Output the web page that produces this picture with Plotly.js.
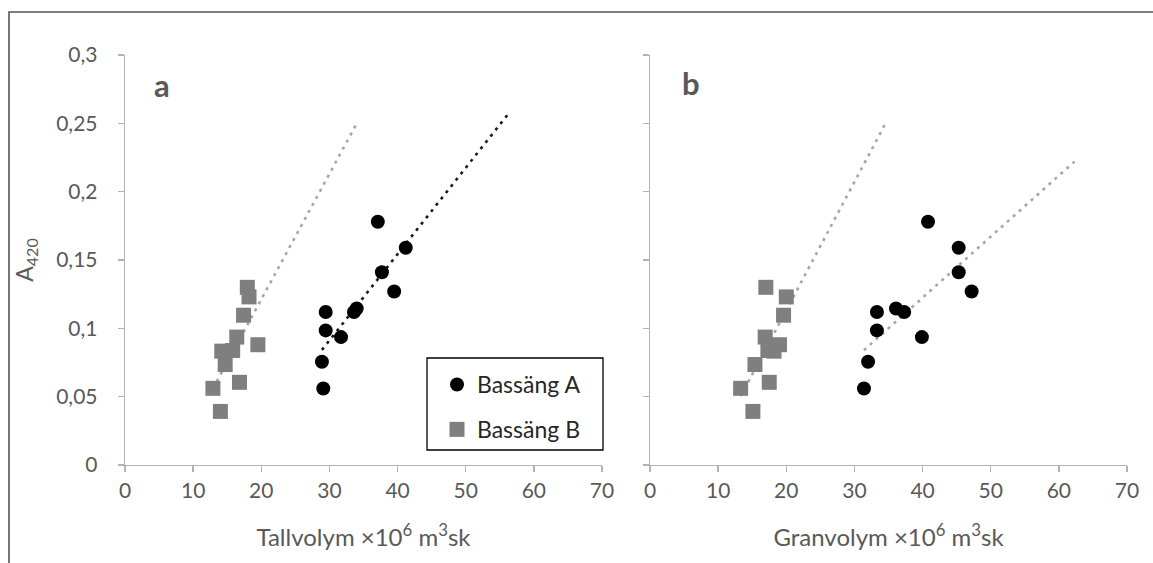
<!DOCTYPE html>
<html>
<head>
<meta charset="utf-8">
<script src="https://cdn.plot.ly/plotly-3.0.1.min.js"></script>
<style>html,body{margin:0;padding:0;background:#fff;}#chart{width:1153px;height:563px;}</style>
</head>
<body>
<div id="chart"></div>
<script>
// ---- Data ----
// A420 values (shared by both panels)
const aA420 = [0.178, 0.159, 0.141, 0.127, 0.1145, 0.112, 0.112, 0.0985, 0.0936, 0.0755, 0.056];
const aTall = [37.1, 41.2, 37.7, 39.5, 34.0, 33.6, 29.45, 29.45, 31.7, 28.9, 29.1];
const aGran = [40.8, 45.3, 45.3, 47.2, 36.1, 37.3, 33.3, 33.3, 39.9, 32.0, 31.4];

const bA420 = [0.130, 0.123, 0.1096, 0.0936, 0.088, 0.0833, 0.0838, 0.0735, 0.0605, 0.0561, 0.0392];
const bTall = [17.95, 18.2, 17.4, 16.4, 19.5, 14.2, 15.8, 14.7, 16.8, 12.9, 14.0];
const bGran = [17.0, 20.0, 19.6, 16.9, 19.0, 18.2, 17.3, 15.4, 17.5, 13.3, 15.1];

// Trend lines (end points)
const trendTallAx = [28.9, 56.5];   const trendTallAy = [0.0842, 0.2585];
const trendTallBx = [12.9, 34.1];   const trendTallBy = [0.0560, 0.2507];
const trendGranAx = [31.4, 62.3];   const trendGranAy = [0.0840, 0.2220];
const trendGranBx = [13.3, 34.44];  const trendGranBy = [0.0503, 0.2488];

const xTickVals = [0, 10, 20, 30, 40, 50, 60, 70];
const xTickText = ['0', '10', '20', '30', '40', '50', '60', '70'];
const yTickVals = [0, 0.05, 0.1, 0.15, 0.2, 0.25, 0.3];
const yTickText = ['0', '0,05', '0,1', '0,15', '0,2', '0,25', '0,3'];

const seriesNames = ['Bassäng A', 'Bassäng B'];
const panelLabels = ['a', 'b'];
const xTitles = ['Tallvolym ×10<sup>6</sup> m<sup>3</sup>sk', 'Granvolym ×10<sup>6</sup> m<sup>3</sup>sk'];
const yTitle = 'A<sub>420</sub>';

// ---- Styles ----
const FONT = 'Lato, "Open Sans", sans-serif';
const TXT = '#595959';
const AXC = '#b3b3b3';
const colA = '#000000';
const colB = '#7f7f7f';
const dotDash = '3px,5px';

function markers(x, y, xa, ya, name, sym, col, size, show) {
  return {x: x, y: y, xaxis: xa, yaxis: ya, type: 'scatter', mode: 'markers', name: name,
    legendgroup: name, showlegend: show,
    marker: {symbol: sym, color: col, size: size}, hoverinfo: 'x+y'};
}
function trend(x, y, xa, ya, col) {
  return {x: x, y: y, xaxis: xa, yaxis: ya, type: 'scatter', mode: 'lines', showlegend: false,
    hoverinfo: 'skip', line: {color: col, width: 2.6, dash: dotDash}};
}

const data = [
  trend(trendTallBx, trendTallBy, 'x', 'y', '#a6a6a6'),
  trend(trendTallAx, trendTallAy, 'x', 'y', '#1a1a1a'),
  trend(trendGranBx, trendGranBy, 'x2', 'y2', '#a6a6a6'),
  trend(trendGranAx, trendGranAy, 'x2', 'y2', '#a6a6a6'),
  markers(aTall, aA420, 'x', 'y', seriesNames[0], 'circle', colA, 14, true),
  markers(bTall, bA420, 'x', 'y', seriesNames[1], 'square', colB, 15, true),
  markers(aGran, aA420, 'x2', 'y2', seriesNames[0], 'circle', colA, 14, false),
  markers(bGran, bA420, 'x2', 'y2', seriesNames[1], 'square', colB, 15, false)
];

const L = 125, R = 26, T = 55, B = 98;
const W = 1153, H = 563;
const plotW = W - L - R, plotH = H - T - B;
const d1 = 477 / plotW, d2 = 525 / plotW;
const px = v => (v - L) / plotW;          // pixel x -> paper x
const py = v => (H - B - v) / plotH;      // pixel y -> paper y

function xax(domain, anchor, title) {
  return {domain: domain, anchor: anchor, range: [0, 70], tickmode: 'array', tickvals: xTickVals, ticktext: xTickText,
    ticks: 'outside', ticklen: 6, tickcolor: AXC, tickwidth: 1.3, showline: true, linecolor: AXC, linewidth: 1.3,
    showgrid: false, zeroline: false, tickfont: {family: FONT, size: 21, color: TXT},
    title: {text: title, font: {family: FONT, size: 24, color: TXT}, standoff: 28}, fixedrange: true};
}
function yax(anchor, labels, title) {
  return {anchor: anchor, domain: [0, 1], range: [0, 0.3], tickmode: 'array', tickvals: yTickVals, ticktext: yTickText,
    showticklabels: labels, ticks: 'outside', ticklen: 6, tickcolor: AXC, tickwidth: 1.3, ticklabelstandoff: 16,
    showline: true, linecolor: AXC, linewidth: 1.3, showgrid: false, zeroline: false,
    tickfont: {family: FONT, size: 21, color: TXT},
    title: title ? {text: title, font: {family: FONT, size: 23, color: TXT}, standoff: 16} : {text: ''}, fixedrange: true};
}

const layout = {
  width: W, height: H,
  margin: {l: L, r: R, t: T, b: B, autoexpand: false},
  paper_bgcolor: '#ffffff', plot_bgcolor: '#ffffff',
  font: {family: FONT, color: TXT},
  showlegend: true,
  xaxis: xax([0, d1], 'y', xTitles[0]),
  yaxis: yax('x', true, yTitle),
  xaxis2: xax([d2, 1], 'y2', xTitles[1]),
  yaxis2: yax('x2', false, null),
  legend: {x: px(437), xanchor: 'left', y: py(451), yanchor: 'bottom',
    borderwidth: 0, bgcolor: 'rgba(0,0,0,0)',
    font: {family: FONT, size: 23, color: '#262626'}, traceorder: 'grouped', tracegroupgap: 12,
    itemwidth: 30},
  annotations: [
    {xref: 'paper', yref: 'paper', x: px(162), y: py(85), text: '<b>' + panelLabels[0] + '</b>',
      xanchor: 'center', yanchor: 'middle', showarrow: false, font: {family: FONT, size: 31, color: TXT}},
    {xref: 'paper', yref: 'paper', x: px(691), y: py(83), text: '<b>' + panelLabels[1] + '</b>',
      xanchor: 'center', yanchor: 'middle', showarrow: false, font: {family: FONT, size: 31, color: TXT}}
  ],
  shapes: [
    {type: 'rect', xref: 'paper', yref: 'paper', x0: px(9), x1: 1.2, y0: -0.6, y1: py(12),
      line: {color: '#555555', width: 1.6}, fillcolor: 'rgba(0,0,0,0)', layer: 'below'},
    {type: 'rect', xref: 'paper', yref: 'paper', x0: px(427), x1: px(603), y0: py(450), y1: py(358),
      line: {color: '#000000', width: 1.3}, fillcolor: 'rgba(0,0,0,0)', layer: 'above'}
  ]
};

Plotly.newPlot('chart', data, layout, {displayModeBar: false, staticPlot: true});
</script>
</body>
</html>
